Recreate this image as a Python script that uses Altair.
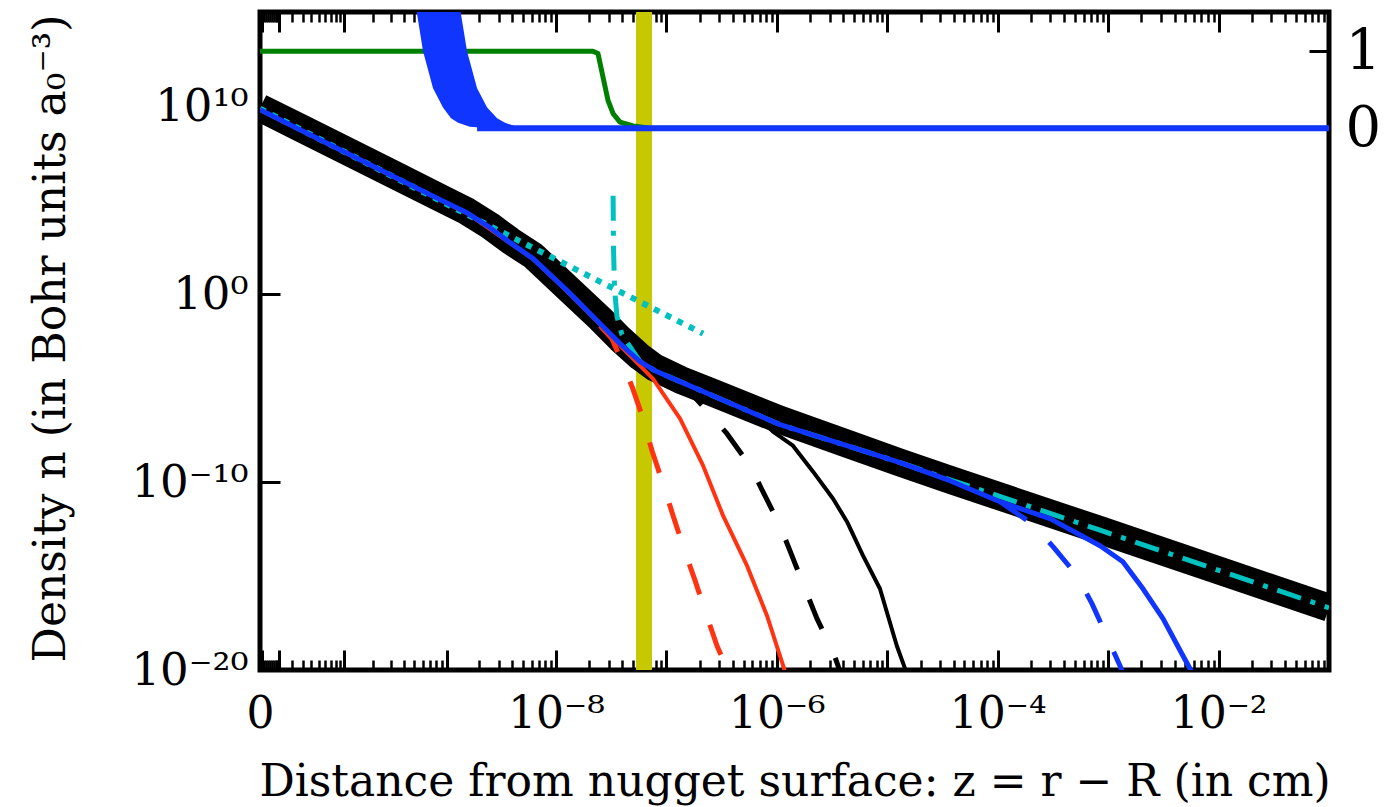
import json
import altair as alt
import pandas as pd

# ---------------- values ----------------
# z = distance from nugget surface (cm); densities given as log10(n) in a0^-3
black_z = [0, 2.72e-11, 1.156e-10, 3.66e-10, 8.7e-10, 1.545e-9, 2.51e-9, 3.82e-9, 6.19e-9,
           1.26e-8, 2.51e-8, 3.80e-8, 5.77e-8, 7.88e-8, 1.33e-7, 2.64e-7, 1.07e-6, 4.60e-6,
           1.31e-5, 3.70e-5, 8.45e-4, 0.1]
black_log_n = [9.91, 8.85, 7.52, 6.19, 5.12, 4.40, 3.63, 2.84, 2.04,
               0.34, -1.31, -2.38, -3.34, -3.92, -4.56, -5.25, -6.69, -8.02,
               -8.97, -9.88, -12.56, -16.69]

blue_z = [0, 2.72e-11, 1.156e-10, 3.66e-10, 8.7e-10, 1.545e-9, 2.51e-9, 3.82e-9, 6.19e-9,
          1.26e-8, 2.51e-8, 3.80e-8, 5.77e-8, 7.88e-8, 1.33e-7, 2.64e-7, 1.07e-6, 4.60e-6,
          1.31e-5, 3.70e-5, 1.05e-4, 2.98e-4, 8.45e-4, 1.36e-3, 2.07e-3, 3.14e-3, 4.76e-3,
          5.52e-3, 6.12e-3]
blue_log_n = [9.80, 8.74, 7.41, 6.08, 5.02, 4.32, 3.53, 2.73, 1.88,
              0.18, -1.58, -2.64, -3.60, -4.08, -4.66, -5.41, -6.95, -8.12,
              -8.97, -9.93, -11.05, -11.95, -13.39, -14.24, -15.68, -17.27, -19.24,
              -19.93, -20.46]

blue_dash_z = [1.05e-4, 2.05e-4, 3.17e-4, 5.23e-4, 7.14e-4, 9.77e-4, 1.28e-3, 1.42e-3]
blue_dash_log_n = [-11.05, -12.22, -13.44, -14.98, -16.47, -18.23, -19.77, -20.46]

red_z = [0, 3.66e-10, 1.545e-9, 6.19e-9, 1.26e-8, 2.51e-8, 4.05e-8, 7.57e-8, 1.33e-7,
         2.15e-7, 3.26e-7, 5.37e-7, 8.15e-7, 1.14e-6, 1.26e-6]
red_log_n = [9.78, 6.06, 4.30, 1.86, 0.14, -1.62, -2.91, -4.51, -6.63,
             -9.13, -11.79, -14.45, -17.11, -19.77, -20.57]

red_dash_z = [2.51e-8, 3.22e-8, 4.89e-8, 6.02e-8, 7.41e-8, 9.12e-8, 1.15e-7, 1.41e-7,
              1.82e-7, 2.24e-7, 2.87e-7, 3.54e-7, 3.85e-7]
red_dash_log_n = [-1.69, -2.38, -4.93, -6.47, -8.34, -9.93, -11.79, -13.39,
                  -15.25, -16.85, -18.71, -19.93, -20.57]

black_dash_z = [1.33e-7, 2.38e-7, 3.54e-7, 5.71e-7, 7.50e-7, 1.07e-6, 1.37e-6, 1.80e-6,
                2.31e-6, 3.23e-6, 3.58e-6, 3.89e-6]
black_dash_log_n = [-4.66, -6.26, -7.43, -9.13, -10.52, -12.33, -13.92, -15.68,
                    -17.27, -19.03, -19.77, -20.46]

black_thin_z = [5.71e-7, 9.23e-7, 1.40e-6, 2.13e-6, 3.23e-6, 4.32e-6, 6.03e-6, 8.59e-6,
                1.22e-5, 1.45e-5, 1.57e-5]
black_thin_log_n = [-6.10, -7.32, -8.07, -9.45, -10.89, -12.11, -13.92, -15.68,
                    -18.71, -19.93, -20.57]

cyan_dot_z = [0, 2.03e-9, 2.15e-7]
cyan_dot_log_n = [9.86, 3.88, -2.11]

cyan_dashdot_z = [3.29e-8, 3.32e-8, 3.39e-8, 3.57e-8, 3.96e-8, 5.77e-8, 7.88e-8, 1.33e-7,
                  2.64e-7, 1.07e-6, 4.60e-6, 1.31e-5, 3.70e-5, 8.45e-4, 0.1]
cyan_dashdot_log_n = [5.23, 2.41, 0.28, -1.21, -2.16, -3.60, -4.08, -4.66,
                      -5.41, -6.95, -8.12, -8.97, -9.88, -12.56, -16.69]

yellow_z = [6.27e-8]

# right-hand axis (0 .. 1) curves
green_z = [0, 2.16e-8, 2.40e-8, 2.67e-8, 2.96e-8, 3.29e-8, 3.80e-8, 5.01e-8, 7.11e-8, 0.1]
green_frac = [1.0, 1.0, 0.97, 0.66, 0.36, 0.19, 0.08, 0.03, 0.0, 0.0]

band_frac = [0.0, 0.02, 0.07, 0.13, 0.27, 0.52, 1.00, 1.51, 1.90]
band_z_left = [2.51e-9, 1.64e-9, 1.28e-9, 1.10e-9, 9.28e-10, 7.50e-10, 6.05e-10, 5.28e-10, 4.71e-10]
band_z_right = [7.93e-9, 4.42e-9, 3.44e-9, 2.91e-9, 2.36e-9, 1.91e-9, 1.545e-9, 1.35e-9, 1.22e-9]

blue_flat_z = [1.91e-9, 0.1]
blue_flat_frac = [0.0, 0.0]

# tick values / labels
x_decades = [float(f"1e{d}") for d in range(-13, 0)]
x_major_ticks = [0.0] + x_decades
x_minor_mult = [2, 3, 4, 5, 6, 7, 8, 9]
x_minor_ticks = [m * d for d in x_decades[:-1] for m in x_minor_mult]
x_all_ticks = x_major_ticks + x_minor_ticks
x_label_values = [0.0, 1e-8, 1e-6, 1e-4, 1e-2]
x_label_texts = ["0", "10⁻⁸", "10⁻⁶", "10⁻⁴", "10⁻²"]
y_tick_values = [1e-20, 1e-10, 1.0, 1e10]
right_tick_values = [0, 1]

# ---------------- styling ----------------
FONT = "DejaVu Serif"
BLUE = "#1035ff"
RED = "#ff3311"
CYAN = "#00c0c0"
GREEN = "#008000"
YELLOW = "#c8c800"

W, H = 1069, 658
xscale = alt.Scale(type="symlog", constant=2.09e-11, domain=[0, 0.1], nice=False)
yscale = alt.Scale(type="log", domain=[1e-20, 1e15], nice=False)
rscale = alt.Scale(domain=[-7.04, 1.51], nice=False, zero=False)

majors_js = json.dumps(x_major_ticks)
tick_size_expr = f"indexof({majors_js}, datum.value) >= 0 ? -20 : -10"
tick_width_expr = f"indexof({majors_js}, datum.value) >= 0 ? 3 : 2.5"
x_label_expr = (f"{json.dumps(x_label_texts, ensure_ascii=False)}"
                f"[indexof({json.dumps(x_label_values)}, datum.value)] || ''")
y_label_expr = ("datum.value < 1e-15 ? '10⁻²⁰' : datum.value < 1e-5 ? '10⁻¹⁰' : "
                "datum.value < 1e5 ? '10⁰' : '10¹⁰'")

bottom_axis = alt.Axis(
    orient="bottom", values=x_all_ticks, labelExpr=x_label_expr,
    tickSize=alt.ExprRef(expr=tick_size_expr), tickWidth=alt.ExprRef(expr=tick_width_expr),
    labelPadding=42, labelFontSize=44, labelFlush=False, labelOverlap=False,
    labelBaseline="top", labelAlign="center",
    title="Distance from nugget surface: z = r − R (in cm)",
    titleX=W / 2, titleY=125, titleBaseline="alphabetic", titleAlign="center",
    titleLimit=3000,
)
top_axis = alt.Axis(
    orient="top", values=x_all_ticks, labels=False,
    tickSize=alt.ExprRef(expr=tick_size_expr), tickWidth=alt.ExprRef(expr=tick_width_expr),
    title=None,
)
left_axis = alt.Axis(
    orient="left", values=y_tick_values, labelExpr=y_label_expr,
    tickSize=alt.ExprRef(expr="-20"), tickWidth=3,
    labelPadding=32, labelFontSize=45, labelAlign="right", labelBaseline="middle",
    labelOverlap=False, labelFlush=False,
    title="Density n (in Bohr units a₀⁻³)",
    titleX=-196, titleY=H / 2 - 3, titleAngle=270, titleBaseline="alphabetic",
    titleAlign="center", titleLimit=3000,
)
right_axis = alt.Axis(
    orient="right", values=right_tick_values, format="d",
    tickSize=alt.ExprRef(expr="-20"), tickWidth=3,
    labelPadding=36, labelFontSize=56, labelAlign="left", labelBaseline="middle",
    labelOverlap=False, labelFlush=False, title=None,
)


def density_line(z, log_n, color, width, dash=None, x_axis=None, y_axis=None):
    df = pd.DataFrame({"z": z, "n": [10.0 ** v for v in log_n]})
    kw = dict(color=color, strokeWidth=width, clip=True, strokeCap="butt", strokeJoin="round")
    if dash:
        kw["strokeDash"] = dash
    return alt.Chart(df).mark_line(**kw).encode(
        x=alt.X("z:Q", scale=xscale, axis=x_axis),
        y=alt.Y("n:Q", scale=yscale, axis=y_axis),
    )


yellow = alt.Chart(pd.DataFrame({"z": yellow_z})).mark_rule(
    color=YELLOW, strokeWidth=16, clip=True
).encode(x=alt.X("z:Q", scale=xscale, axis=top_axis))

green = alt.Chart(pd.DataFrame({"z": green_z, "f": green_frac})).mark_line(
    color=GREEN, strokeWidth=5, clip=True, strokeJoin="round"
).encode(
    x=alt.X("z:Q", scale=xscale, axis=None),
    y=alt.Y("f:Q", scale=rscale, axis=right_axis),
)
band = alt.Chart(pd.DataFrame({"f": band_frac, "zl": band_z_left, "zr": band_z_right})).mark_area(
    color=BLUE, orient="horizontal", clip=True, opacity=1
).encode(
    y=alt.Y("f:Q", scale=rscale, axis=None),
    x=alt.X("zl:Q", scale=xscale, axis=None),
    x2="zr:Q",
)
blue_flat = alt.Chart(pd.DataFrame({"z": blue_flat_z, "f": blue_flat_frac})).mark_line(
    color=BLUE, strokeWidth=6, clip=True
).encode(
    x=alt.X("z:Q", scale=xscale, axis=None),
    y=alt.Y("f:Q", scale=rscale, axis=None),
)

black = density_line(black_z, black_log_n, "black", 28, x_axis=bottom_axis, y_axis=left_axis)
cyan_dot = density_line(cyan_dot_z, cyan_dot_log_n, CYAN, 6, dash=[6, 7])
cyan_dashdot = density_line(cyan_dashdot_z, cyan_dashdot_log_n, CYAN, 5, dash=[25, 10, 5, 10])
red = density_line(red_z, red_log_n, RED, 4)
red_dash = density_line(red_dash_z, red_dash_log_n, RED, 5, dash=[32, 32])
black_dash = density_line(black_dash_z, black_dash_log_n, "black", 5, dash=[32, 32])
black_thin = density_line(black_thin_z, black_thin_log_n, "black", 4)
blue_dash = density_line(blue_dash_z, blue_dash_log_n, BLUE, 5, dash=[32, 32])
blue = density_line(blue_z, blue_log_n, BLUE, 5)

chart = alt.layer(
    yellow, green, band, blue_flat,
    black, cyan_dot, cyan_dashdot, red, red_dash, black_dash, black_thin, blue_dash, blue,
).resolve_scale(y="independent").resolve_axis(x="independent", y="independent").properties(
    width=W, height=H,
    autosize=alt.AutoSizeParams(type="none"),
    padding={"left": 260, "top": 12, "right": 60, "bottom": 137},
    background="white",
).configure_view(
    stroke="black", strokeWidth=5
).configure_axis(
    domain=False, grid=False, tickColor="black", labelColor="black", titleColor="black",
    labelFont=FONT, titleFont=FONT, titleFontWeight="normal", titleFontSize=44,
    tickCap="butt",
)

chart.save("out.html", embed_options={"renderer": "svg", "actions": False})
